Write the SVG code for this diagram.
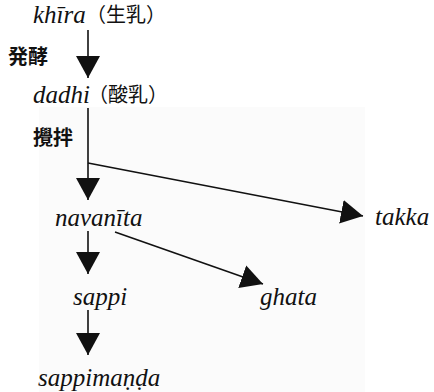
<svg xmlns="http://www.w3.org/2000/svg" width="434" height="392" viewBox="0 0 434 392">
<style>
.lat{font-family:'Liberation Serif','Times New Roman',serif;font-style:italic;font-size:25px;fill:#111}
.cjk{font-family:'Noto Sans CJK JP',sans-serif;font-size:20px;fill:#111}
.lab{font-family:'Noto Sans CJK JP',sans-serif;font-size:20px;font-weight:bold;fill:#111}
.edge{stroke:#111;stroke-width:1.6;fill:none;marker-end:url(#ah)}
</style>
<defs>
<marker id="ah" viewBox="0 0 22 24" refX="22" refY="12" markerWidth="22" markerHeight="24" markerUnits="userSpaceOnUse" orient="auto">
<path d="M0,0 L22,12 L0,24 Z" fill="#111"/>
</marker>
</defs>
<rect x="39" y="107" width="326" height="285" fill="#fbfbfb"/>
<g id="connectors">
<line class="edge" x1="88" y1="30" x2="88" y2="78"/>
<line class="edge" x1="88" y1="108" x2="88" y2="200"/>
<line class="edge" x1="88" y1="163" x2="363" y2="216"/>
<line class="edge" x1="88" y1="231" x2="88" y2="274"/>
<line class="edge" x1="115" y1="232" x2="263" y2="284"/>
<line class="edge" x1="88" y1="310" x2="88" y2="355"/>
</g>
<g id="khira"><text class="lat" x="33" y="23">khīra</text><text class="cjk" x="86" y="22">（生乳）</text></g>
<g id="label-hakko"><text class="lab" x="8" y="64">発酵</text></g>
<g id="dadhi"><text class="lat" x="33" y="103">dadhi</text><text class="cjk" x="88" y="102">（酸乳）</text></g>
<g id="label-kakuhan"><text class="lab" x="33" y="145">攪拌</text></g>
<g id="navanita"><text class="lat" x="55" y="226">navanīta</text></g>
<g id="takka"><text class="lat" x="375" y="225">takka</text></g>
<g id="sappi"><text class="lat" x="73" y="305">sappi</text></g>
<g id="ghata"><text class="lat" x="260" y="305">ghata</text></g>
<g id="sappimanda"><text class="lat" x="38" y="386">sappimaṇḍa</text></g>
</svg>
